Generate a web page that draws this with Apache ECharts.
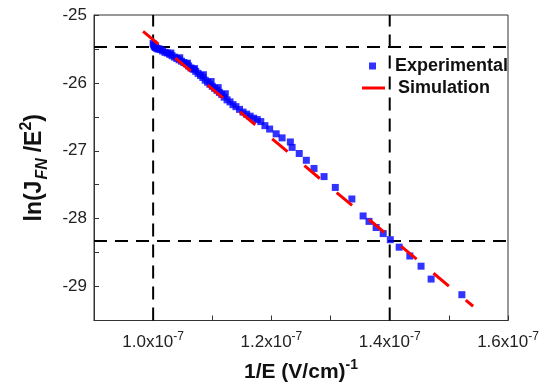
<!DOCTYPE html>
<html>
<head>
<meta charset="utf-8">
<script src="https://cdn.jsdelivr.net/npm/echarts@6/dist/echarts.min.js"></script>
<style>html,body{margin:0;padding:0;background:#fff}#c{width:546px;height:388px}</style>
</head>
<body>
<div id="c"></div>
<script>
// x values in units of 1e-7 (V/cm)^-1, y values ln(J_FN/E^2)
const expX = [1.000,1.001,1.002,1.003,1.004,1.006,1.008,1.010,1.013,1.016,1.020,1.024,1.028,1.032,1.036,1.040,1.044,1.048,1.052,1.056,1.060,1.064,1.068,1.072,1.076,1.080,1.084,1.088,1.092,1.096,1.100,1.104,1.108,1.112,1.116,1.120,1.125,1.130,1.135,1.140,1.146,1.152,1.158,1.164,1.170,1.176,
  1.030,1.045,1.058,1.070,1.085,1.098,1.110,1.122,
  1.182,1.189,1.197,1.208,1.218,1.232,1.235,1.247,1.259,1.272,1.289,1.308,1.336,1.355,1.365,1.377,1.389,1.401,1.416,1.434,1.453,1.470,1.522];
const expY = [-25.42,-25.44,-25.46,-25.47,-25.48,-25.49,-25.50,-25.50,-25.51,-25.53,-25.55,-25.56,-25.58,-25.60,-25.62,-25.64,-25.66,-25.68,-25.70,-25.72,-25.75,-25.78,-25.80,-25.83,-25.86,-25.89,-25.92,-25.96,-25.99,-26.02,-26.05,-26.08,-26.11,-26.14,-26.17,-26.21,-26.25,-26.28,-26.32,-26.35,-26.39,-26.43,-26.46,-26.49,-26.52,-26.54,
  -25.56,-25.63,-25.71,-25.79,-25.88,-25.98,-26.07,-26.16,
  -26.57,-26.63,-26.68,-26.75,-26.81,-26.87,-26.95,-27.04,-27.14,-27.26,-27.38,-27.54,-27.71,-27.96,-28.04,-28.13,-28.22,-28.31,-28.42,-28.55,-28.70,-28.89,-29.12];
const simX = [0.983, 1.541];
const simY = [-25.24, -29.29];
const guideX = [1.0, 1.4];
const guideY = [-25.47, -28.33];
const xRange = [0.9, 1.6];
const yRange = [-29.5, -25];
const xLabelValues = [1.0, 1.2, 1.4, 1.6];
const yLabelValues = [-25, -26, -27, -28, -29];

const zip = (a, b) => a.map((v, i) => [v, b[i]]);
const dash = [13, 8];
const guideSeries = [];
guideX.forEach(x => guideSeries.push({type:'line', data:[[x, yRange[0]],[x, yRange[1]]], symbol:'none', silent:true, lineStyle:{color:'#000', width:2, type:dash}, z:1}));
guideY.forEach(y => guideSeries.push({type:'line', data:[[xRange[0], y],[xRange[1], y]], symbol:'none', silent:true, lineStyle:{color:'#000', width:2, type:dash}, z:1}));

const font = 'Liberation Sans, Arial, sans-serif';
const chart = echarts.init(document.getElementById('c'), null, {renderer:'canvas'});
chart.setOption({
  animation:false,
  backgroundColor:'#fff',
  grid:{left:94, right:38, top:15, bottom:65, show:true, borderColor:'#333', borderWidth:1, backgroundColor:'transparent'},
  legend:[
    {data:['Experimental'], left:364, top:52, itemWidth:7, itemHeight:7, icon:'rect', selectedMode:false,
     textStyle:{fontFamily:font, fontWeight:'bold', fontSize:18, color:'#111', padding:[0,0,0,14]}},
    {data:['Simulation'], left:357, top:74, itemWidth:23, itemHeight:3, icon:'rect', selectedMode:false,
     textStyle:{fontFamily:font, fontWeight:'bold', fontSize:18, color:'#111', padding:[0,0,0,8]}}
  ],
  xAxis:{type:'value', min:xRange[0], max:xRange[1], interval:0.1,
    splitLine:{show:false},
    axisLine:{onZero:false, lineStyle:{color:'#333', width:1}},
    axisTick:{inside:true, length:5, lineStyle:{color:'#333'}},
    axisLabel:{margin:10, color:'#222', fontFamily:font, fontSize:17,
      formatter:v => { const r = Math.round(v*10)/10; return xLabelValues.some(t => Math.abs(t-r)<1e-6) ? '{a|' + r.toFixed(1) + 'x10}{b|-7}' : ''; },
      rich:{a:{fontFamily:font, fontSize:17, color:'#222', lineHeight:24}, b:{fontFamily:font, fontSize:12, color:'#222', lineHeight:12, verticalAlign:'top'}}},
    name:'{a|1/E (V/cm)}{b|-1}', nameLocation:'middle', nameGap:38,
    nameTextStyle:{rich:{a:{fontFamily:font, fontWeight:'bold', fontSize:21, color:'#111', lineHeight:28}, b:{fontFamily:font, fontWeight:'bold', fontSize:14, color:'#111', lineHeight:14, verticalAlign:'top'}}}
  },
  yAxis:{type:'value', min:yRange[0], max:yRange[1], interval:0.5,
    splitLine:{show:false},
    axisLine:{onZero:false, lineStyle:{color:'#333', width:1}},
    axisTick:{inside:true, length:5, lineStyle:{color:'#333'}},
    axisLabel:{margin:7, color:'#222', fontFamily:font, fontSize:17,
      formatter:v => yLabelValues.some(t => Math.abs(t-v)<1e-6) ? String(Math.round(v)) : ''},
    name:'{a|ln(J}{s|FN}{a|/E}{p|2}{a|)}', nameLocation:'middle', nameGap:43, nameRotate:90,
    nameTextStyle:{rich:{
      a:{fontFamily:font, fontWeight:'bold', fontSize:23, color:'#111', lineHeight:32},
      s:{fontFamily:font, fontWeight:'bold', fontStyle:'italic', fontSize:16, color:'#111', lineHeight:16, verticalAlign:'bottom', padding:[0,6,0,1]},
      p:{fontFamily:font, fontWeight:'bold', fontSize:16, color:'#111', lineHeight:16, verticalAlign:'top'}}}
  },
  series: guideSeries.concat([
    {name:'Experimental', type:'scatter', data:zip(expX, expY), symbol:'rect', symbolSize:7, itemStyle:{color:'#0000ff'}, z:3},
    {name:'Simulation', type:'line', data:zip(simX, simY), symbol:'none', lineStyle:{color:'#ff0000', width:3, type:[20,22]}, itemStyle:{color:'#ff0000'}, z:4}
  ])
});
</script>
</body>
</html>
